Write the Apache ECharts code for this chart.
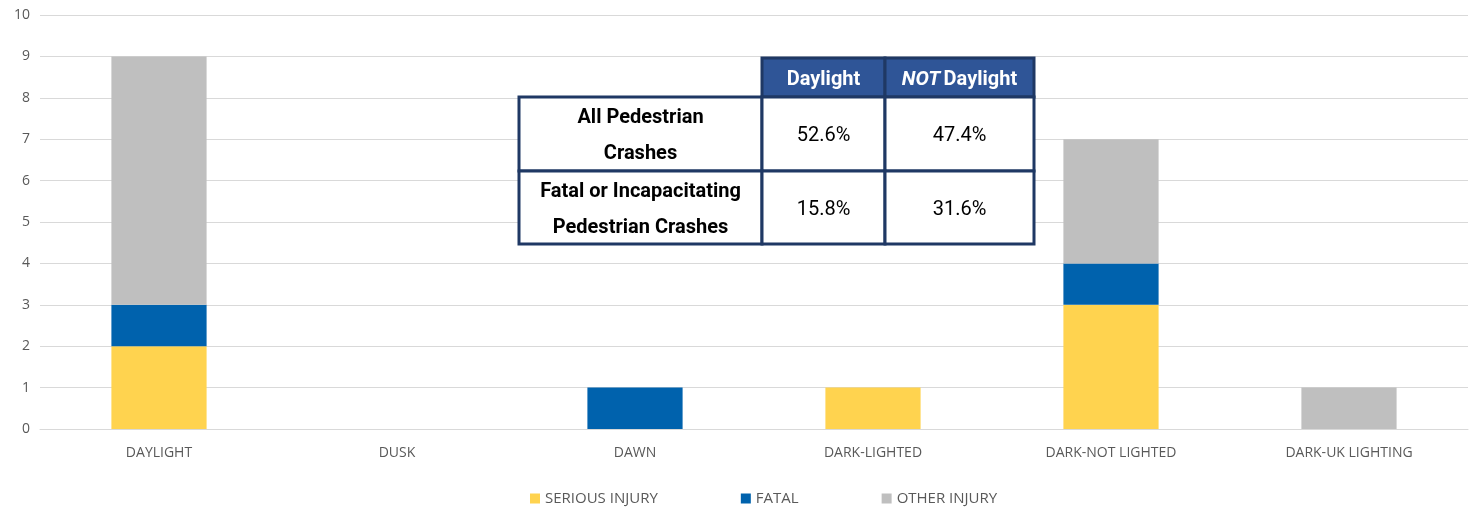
<!DOCTYPE html>
<html><head><meta charset="utf-8">
<script src="https://cdn.jsdelivr.net/npm/echarts@6/dist/echarts.min.js"></script>
<style>html,body{margin:0;padding:0;background:#fff}#c{width:1469px;height:509px}</style>
</head><body><div id="c"></div>
<script>
const categories = ['DAYLIGHT','DUSK','DAWN','DARK-LIGHTED','DARK-NOT LIGHTED','DARK-UK LIGHTING'];
const seriousInjury = [2,0,0,1,3,0];
const fatal = [1,0,1,0,1,0];
const otherInjury = [6,0,0,0,3,1];
const seriesNames = ['SERIOUS INJURY','FATAL','OTHER INJURY'];
const tableHeaders = ['Daylight','NOT Daylight'];
const tableRowLabels = [['All Pedestrian','Crashes'],['Fatal or Incapacitating','Pedestrian Crashes']];
const tableValues = [['52.6%','47.4%'],['15.8%','31.6%']];

const FONT = 'Roboto,sans-serif';
const border = '#1F3864', headFill = '#2F5597';
const cx = [519, 762, 885, 1034];
const ry = [58, 97, 171, 244];
const g = [];
function cell(x0,x1,y0,y1,fill){
  g.push({type:'rect',shape:{x:x0,y:y0,width:x1-x0,height:y1-y0},style:{fill:fill,stroke:border,lineWidth:3},z:100});
}
function txt(t,x,y,opt){
  g.push({type:'text',x:x,y:y,z:101,style:Object.assign({text:t,fill:'#000',font:'20px '+FONT,textAlign:'center',textVerticalAlign:'middle'},opt||{})});
}
cell(cx[1],cx[2],ry[0],ry[1],headFill);
cell(cx[2],cx[3],ry[0],ry[1],headFill);
txt(tableHeaders[0],(cx[1]+cx[2])/2,80,{fill:'#fff',font:'bold 20px '+FONT});
g.push({type:'text',x:(cx[2]+cx[3])/2,y:80,z:101,style:{text:'{i|NOT} {b|Daylight}',textAlign:'center',textVerticalAlign:'middle',
  rich:{i:{fill:'#fff',font:'italic bold 20px '+FONT},b:{fill:'#fff',font:'bold 20px '+FONT}}}});
for(let r=0;r<2;r++){
  for(let c=0;c<3;c++) cell(cx[c],cx[c+1],ry[r+1],ry[r+2],'#fff');
  const mid=(ry[r+1]+ry[r+2])/2 + 2;
  txt(tableRowLabels[r][0],(cx[0]+cx[1])/2,mid-18,{font:'bold 20px '+FONT});
  txt(tableRowLabels[r][1],(cx[0]+cx[1])/2,mid+18,{font:'bold 20px '+FONT});
  txt(tableValues[r][0],(cx[1]+cx[2])/2,mid,{font:'20px '+FONT});
  txt(tableValues[r][1],(cx[2]+cx[3])/2,mid,{font:'20px '+FONT});
}

const chart = echarts.init(document.getElementById('c'));
const colors = ['#FFD34F','#0062AD','#BFBFBF'];
const datas = [seriousInjury, fatal, otherInjury];
chart.setOption({
  animation:false,
  color: colors,
  grid:{left:40,right:1,top:15,bottom:80,containLabel:false},
  legend:{top:486,left:525,itemWidth:10,itemHeight:10,itemGap:83,icon:'rect',
    textStyle:{color:'#595959',fontSize:15,fontFamily:'Open Sans'},
    data:seriesNames},
  xAxis:{type:'category',data:categories,axisTick:{show:false},
    axisLine:{lineStyle:{color:'#D9D9D9'}},
    axisLabel:{color:'#595959',fontSize:14,fontFamily:'Open Sans',margin:17}},
  yAxis:{type:'value',min:0,max:10,interval:1,axisLine:{show:false},axisTick:{show:false},
    splitLine:{lineStyle:{color:'#D9D9D9',width:1}},
    axisLabel:{color:'#595959',fontSize:14,fontFamily:'Open Sans',margin:10}},
  series: seriesNames.map((n,i)=>({name:n,type:'bar',stack:'a',barWidth:'40%',data:datas[i]})),
  graphic: g
});
</script></body></html>
